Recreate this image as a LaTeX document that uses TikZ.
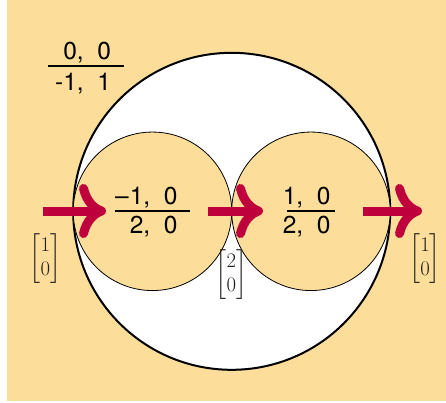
\documentclass[tikz,border=0pt]{standalone}
\usepackage{amsmath}
\usepackage{fontspec}
\setmainfont{TeX Gyre Heros}
\usetikzlibrary{arrows.meta}
\definecolor{crema}{HTML}{FCDE9A}
\definecolor{carmin}{HTML}{BE003C}
\definecolor{tinta}{HTML}{1E1E1E}

\begin{document}
\begin{tikzpicture}[x=1pt, y=-1pt, font=\fontsize{24.5}{29}\selectfont,
	flecha/.style={draw=carmin, line width=9pt, -{Computer Modern Rightarrow[length=27pt, width=54pt]}},
	vec/.style={text=tinta, inner sep=0pt, font=\fontsize{20}{24}\selectfont},
	barra/.style={line width=2pt}]
				\useasboundingbox (0,0) rectangle (446,402);
				\fill[crema] (7,0) rectangle (446,401);
				\draw[line width=2pt, fill=white] (231.7,211.3) circle[radius=158.5pt];
				\draw[line width=0.8pt, fill=crema] (152.45,211.3) circle[radius=79.25pt];
				\draw[line width=0.8pt, fill=crema] (310.95,211.3) circle[radius=79.25pt];
				\node[anchor=base east] (sup0) at (114.5,59.3) {0,\ \ 0};
				\draw[barra] (47.7,66.3) -- (124,66.3);
				\node[anchor=base east] (inf0) at (114.5,90) {-1,\ \ 1};
				\node[anchor=base east] (sup1) at (181,204) {–\kern1pt1,\ \ 0};
				\draw[barra] (115,211) -- (190,211);
				\node[anchor=base east] (inf1) at (181,233) {2,\ \ 0};
				\node[anchor=base east] (sup2) at (334,204) {1,\ \ 0};
				\draw[barra] (287,211) -- (335,211);
				\node[anchor=base east] (inf2) at (334,233) {2,\ \ 0};
				\coordinate (ini1) at (43,211);
				\coordinate (fin1) at (106,211);
				\coordinate (ini2) at (208,211);
				\coordinate (fin2) at (263,211);
				\coordinate (ini3) at (363,211);
				\coordinate (fin3) at (422,211);
				\draw[flecha] (ini1) -- (fin1);
				\draw[flecha] (ini2) -- (fin2);
				\draw[flecha] (ini3) -- (fin3);
				\node[vec] (vizq) at (45.5,259) {$\begin{bmatrix}1\\0\end{bmatrix}$};
				\node[vec] (vmed) at (231.5,275) {$\begin{bmatrix}2\\0\end{bmatrix}$};
				\node[vec] (vder) at (425,259) {$\begin{bmatrix}1\\0\end{bmatrix}$};
			\end{tikzpicture}
\end{document}
